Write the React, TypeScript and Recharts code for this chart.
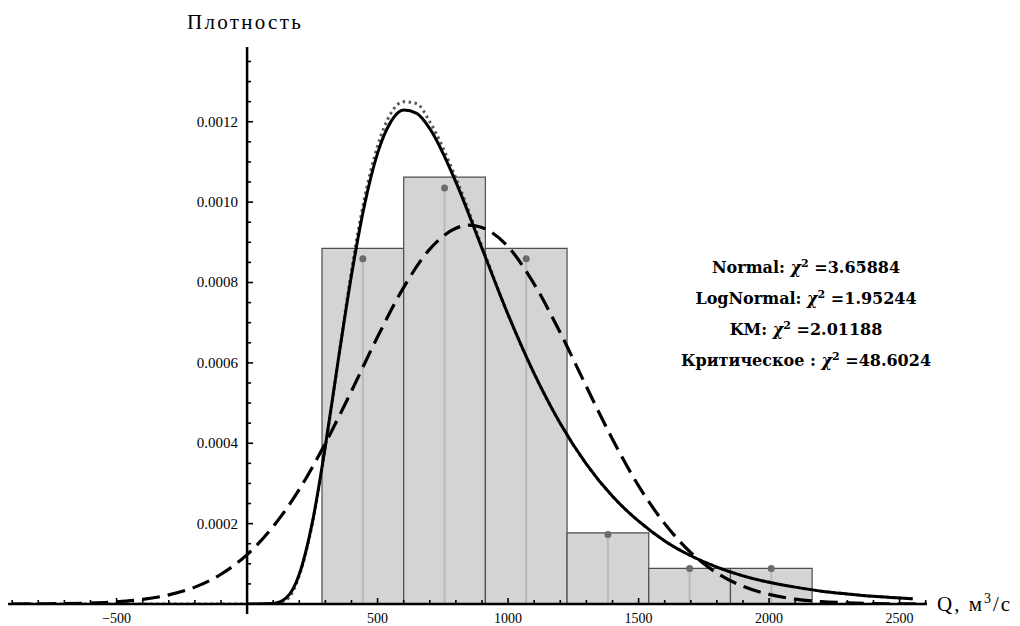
import React from "react";
import {
  ComposedChart,
  Line,
  XAxis,
  YAxis,
  ReferenceArea,
  ReferenceLine,
  ReferenceDot,
} from "recharts";

// histogram of Q (bins) and the sample points drawn at bin centres
const binEdges = [287, 600, 913, 1226, 1539, 1852, 2165];
const binHeights = [0.000885, 0.001062, 0.000885, 0.000177, 0.0000885, 0.0000885];
const binDots = [0.000859, 0.001035, 0.000859, 0.000173, 0.0000885, 0.0000885];

// Normal fit (dashed)
const normalX = [-900, -800, -700, -600, -500, -400, -300, -200, -100, 0, 100, 200, 300, 400, 500, 600, 700, 800, 850, 900, 1000, 1100, 1200, 1300, 1400, 1500, 1600, 1700, 1800, 1900, 2000, 2100, 2200, 2300, 2400, 2500, 2600];
const normalY = [0, 0.0000005, 0.0000011, 0.0000025, 0.0000055, 0.0000116, 0.0000228, 0.000042, 0.000074, 0.000123, 0.000193, 0.000285, 0.0004, 0.00053, 0.000665, 0.000788, 0.000883, 0.000935, 0.000943, 0.000937, 0.000889, 0.000796, 0.000675, 0.000541, 0.00041, 0.000294, 0.0002, 0.000128, 0.000077, 0.000044, 0.000024, 0.000012, 0.000006, 0.000003, 0.000001, 0.0000005, 0];

// LogNormal fit (solid)
const logNormalX = [0, 100, 150, 200, 250, 300, 350, 400, 450, 500, 550, 600, 650, 700, 800, 900, 1000, 1100, 1200, 1300, 1400, 1500, 1600, 1700, 1800, 1900, 2000, 2100, 2200, 2300, 2400, 2500, 2550];
const logNormalY = [0, 0.000001, 0.000015, 0.000074, 0.000203, 0.000393, 0.00061, 0.000818, 0.000993, 0.001122, 0.001199, 0.001229, 0.001221, 0.001183, 0.00105, 0.000885, 0.00072, 0.000573, 0.000449, 0.000348, 0.000268, 0.000206, 0.000157, 0.00012, 0.000092, 0.00007, 0.000054, 0.000042, 0.000032, 0.000025, 0.000019, 0.000015, 0.000013];

// KM fit (grey dotted)
const kmX = [-900, -500, 0, 100, 150, 200, 250, 300, 350, 400, 450, 500, 550, 600, 650, 700, 800, 900, 1000, 1100, 1200, 1300, 1400, 1500, 1600, 1700, 1800, 1900, 2000, 2100, 2200, 2300, 2400, 2500, 2550];
const kmY = [0, 0, 0, 0.000001, 0.00001, 0.00007, 0.0002, 0.00039, 0.00061, 0.00083, 0.00101, 0.00114, 0.00122, 0.00125, 0.001245, 0.0012, 0.00106, 0.00089, 0.00072, 0.000573, 0.000449, 0.000348, 0.000268, 0.000206, 0.000157, 0.00012, 0.000092, 0.00007, 0.000054, 0.000042, 0.000032, 0.000025, 0.000019, 0.000015, 0.000013];

const xMajor = [-500, 0, 500, 1000, 1500, 2000, 2500];
const xMinor = [-900, -800, -700, -600, -400, -300, -200, -100, 100, 200, 300, 400, 600, 700, 800, 900, 1100, 1200, 1300, 1400, 1600, 1700, 1800, 1900, 2100, 2200, 2300, 2400, 2600];
const yMajor = [0.0002, 0.0004, 0.0006, 0.0008, 0.001, 0.0012];
const yLabels = ["0.0002", "0.0004", "0.0006", "0.0008", "0.0010", "0.0012"];
const yMinor = [0.00005, 0.0001, 0.00015, 0.00025, 0.0003, 0.00035, 0.00045, 0.0005, 0.00055, 0.00065, 0.0007, 0.00075, 0.00085, 0.0009, 0.00095, 0.00105, 0.0011, 0.00115, 0.00125, 0.0013, 0.00135];

const fits = [
  { name: "Normal", chi: "3.65884" },
  { name: "LogNormal", chi: "1.95244" },
  { name: "KM", chi: "2.01188" },
  { name: "Критическое ", chi: "48.6024" },
];

const serif = "'Liberation Serif', 'DejaVu Serif', serif";
const wideSerif = "'DejaVu Serif', 'Liberation Serif', serif";

const normalData = normalX.map((x, i) => ({ x, y: normalY[i] }));
const logNormalData = logNormalX.map((x, i) => ({ x, y: logNormalY[i] }));
const kmData = kmX.map((x, i) => ({ x, y: kmY[i] }));
const xTicks = [...xMinor, ...xMajor].sort((a, b) => a - b);

function XTick(props: any) {
  const { x, y, payload } = props;
  const v = payload.value;
  const major = xMajor.includes(v);
  return (
    <g>
      <line x1={x} x2={x} y1={y} y2={y - (major ? 6 : 4)} stroke="#000" strokeWidth={1.6} />
      {major && v !== 0 && (
        <text x={x} y={y + 14} textAnchor="middle" dominantBaseline="central" fontFamily={serif} fontSize={14} fill="#000">
          {v < 0 ? "\u2212" + Math.abs(v) : v}
        </text>
      )}
    </g>
  );
}

function YTick(props: any) {
  const { cx, cy, label, len } = props;
  return (
    <g>
      <line x1={cx} x2={cx + len} y1={cy} y2={cy} stroke="#000" strokeWidth={1.6} />
      {label && (
        <text x={cx - 9} y={cy} textAnchor="end" dominantBaseline="central" fontFamily={serif} fontSize={15} fill="#000">
          {label}
        </text>
      )}
    </g>
  );
}

export default function App() {
  return (
    <div style={{ position: "absolute", left: 0, top: 0, width: 1020, height: 626, background: "#fff" }}>
      <ComposedChart width={1020} height={626} margin={{ top: 47, right: 93, bottom: 0, left: 8 }}>
        <YAxis hide type="number" domain={[0, 0.001386]} allowDataOverflow />
        {binHeights.map((h, i) => (
          <ReferenceArea
            key={"bin" + i}
            x1={binEdges[i]}
            x2={binEdges[i + 1]}
            y1={0}
            y2={h}
            fill="#d4d4d4"
            fillOpacity={1}
            stroke="#4d4d4d"
            strokeWidth={1.2}
          />
        ))}
        {binDots.map((d, i) => (
          <ReferenceLine
            key={"stem" + i}
            segment={[
              { x: (binEdges[i] + binEdges[i + 1]) / 2, y: 0 },
              { x: (binEdges[i] + binEdges[i + 1]) / 2, y: d },
            ]}
            stroke="#b9b9b9"
            strokeWidth={2}
          />
        ))}
        {binDots.map((d, i) => (
          <ReferenceDot
            key={"dot" + i}
            x={(binEdges[i] + binEdges[i + 1]) / 2}
            y={d}
            r={3.5}
            fill="#6b6b6b"
            stroke="none"
          />
        ))}
        <XAxis
          dataKey="x"
          type="number"
          domain={[-916, 2605]}
          allowDataOverflow
          ticks={xTicks}
          interval={0}
          tickSize={0}
          tickMargin={0}
          height={22}
          tickLine={false}
          axisLine={{ stroke: "#000", strokeWidth: 2.5 }}
          tick={<XTick />}
        />
        <ReferenceLine x={0} stroke="#000" strokeWidth={2.5} />
        <ReferenceLine
          segment={[{ x: 0, y: 0 }, { x: 0, y: -0.000025 }]}
          ifOverflow="visible"
          stroke="#000"
          strokeWidth={2.5}
        />
        {yMinor.map((v) => (
          <ReferenceDot key={"ym" + v} x={0} y={v} r={0} shape={(p: any) => <YTick cx={p.cx} cy={p.cy} len={4} />} />
        ))}
        {yMajor.map((v, i) => (
          <ReferenceDot key={"yM" + v} x={0} y={v} r={0} shape={(p: any) => <YTick cx={p.cx} cy={p.cy} len={6} label={yLabels[i]} />} />
        ))}
        <Line data={kmData} dataKey="y" type="monotone" stroke="#5a5a5a" strokeWidth={3} strokeDasharray="2.5 3.5" dot={false} isAnimationActive={false} />
        <Line data={normalData} dataKey="y" type="monotone" stroke="#000" strokeWidth={3.2} strokeDasharray="18 8" dot={false} isAnimationActive={false} />
        <Line data={logNormalData} dataKey="y" type="monotone" stroke="#000" strokeWidth={3} dot={false} isAnimationActive={false} />
      </ComposedChart>
      <div style={{ position: "absolute", left: 187, top: 10, fontFamily: serif, fontSize: 21, letterSpacing: 2.3, color: "#000", whiteSpace: "nowrap" }}>
        Плотность
      </div>
      <div style={{ position: "absolute", left: 937, top: 592, fontFamily: serif, fontSize: 21, letterSpacing: 2, color: "#000", whiteSpace: "nowrap" }}>
        Q, м<span style={{ fontSize: 14, verticalAlign: "super", lineHeight: 0 }}>3</span>/с
      </div>
      <div style={{ position: "absolute", left: 656, top: 252, width: 300, textAlign: "center", fontFamily: wideSerif, fontSize: 16, fontWeight: "bold", lineHeight: "31px", color: "#000" }}>
        {fits.map((f) => (
          <div key={f.name} style={{ whiteSpace: "nowrap" }}>
            {f.name}: <i>χ</i>
            <span style={{ fontSize: 11, verticalAlign: "super", lineHeight: 0 }}>2</span> ={f.chi}
          </div>
        ))}
      </div>
    </div>
  );
}
